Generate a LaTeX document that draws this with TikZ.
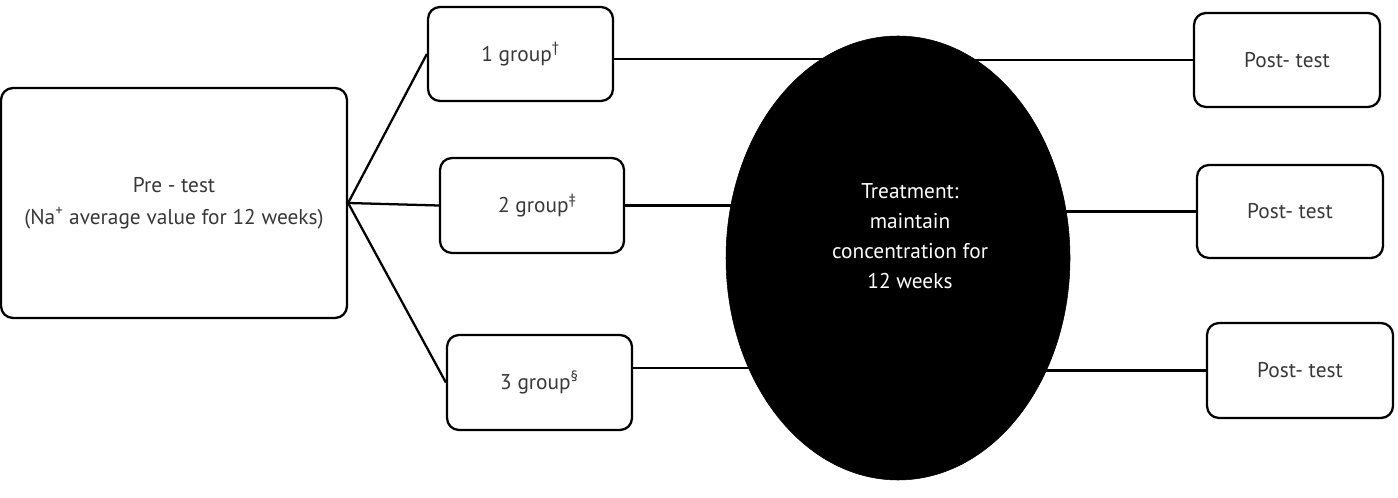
\documentclass[tikz,border=0pt]{standalone}
\usepackage{fontspec}
\setmainfont{PT Sans}
\usetikzlibrary{shapes.geometric,calc,backgrounds}
\begin{document}
\begin{tikzpicture}[x=0.75pt,y=-0.75pt,
  box/.style={draw=black,line width=1.7pt,rounded corners=9pt,fill=white,
    inner sep=0pt,font=\fontsize{16}{24}\selectfont,text=black!78,align=center},
  link/.style={draw=black,line width=1.7pt}]
\useasboundingbox (0,0) rectangle (1398,498);

% pre-test and the three groups
\node[box,minimum width=346pt*0.75,minimum height=230pt*0.75] (pre) at (174,203)
  {Pre - test\\(Na\textsuperscript{+} average value for 12 weeks)};
\node[box,minimum width=185pt*0.75,minimum height=94pt*0.75] (g1) at (520.5,54)
  {1 group\textsuperscript{\dag}};
\node[box,minimum width=184pt*0.75,minimum height=95pt*0.75] (g2) at (532,205.5)
  {\hspace*{8pt}2 group\textsuperscript{\ddag}};
\node[box,minimum width=185pt*0.75,minimum height=95pt*0.75] (g3) at (539.5,382.5)
  {3 group\textsuperscript{\S}};

% treatment
\node[ellipse,fill=black,draw=black,inner sep=0pt,
  minimum width=344pt*0.75,minimum height=444pt*0.75] (treat) at (898,258) {};
\node[text=white,align=center,font=\fontsize{16}{22.5}\selectfont] (treattext) at (910,236)
  {Treatment:\\maintain\\concentration for\\12 weeks};

% post-tests
\node[box,minimum width=186pt*0.75,minimum height=94pt*0.75] (p1) at (1287,60) {Post- test};
\node[box,minimum width=186pt*0.75,minimum height=93pt*0.75] (p2) at (1290,211.5) {Post- test};
\node[box,minimum width=186pt*0.75,minimum height=95pt*0.75] (p3) at (1300,370.5) {Post- test};

% connectors
\begin{scope}[on background layer]
  \draw[link] (pre.east) -- (g1.west);
  \draw[link] (pre.east) -- (g2.west);
  \draw[link] (pre.east) -- (g3.west);
  \coordinate (g1o) at ($(g1.east)+(0,5)$);
  \coordinate (g3o) at ($(g3.east)+(0,-14.5)$);
  \draw[link] (g1o) -- (g1o -| treat.center);
  \draw[link] (g2.east) -- (g2.east -| treat.center);
  \draw[link] (g3o) -- (g3o -| treat.center);
  \draw[link] (treat.center |- p1.west) -- (p1.west);
  \draw[link] (treat.center |- p2.west) -- (p2.west);
  \draw[link] (treat.center |- p3.west) -- (p3.west);
\end{scope}
\end{tikzpicture}
\end{document}
